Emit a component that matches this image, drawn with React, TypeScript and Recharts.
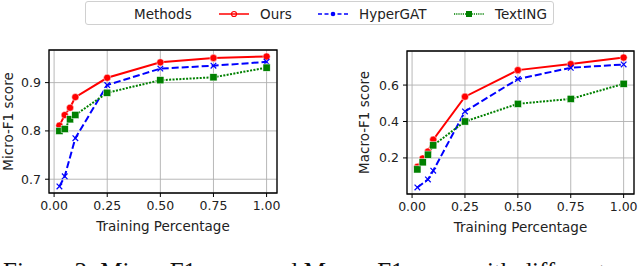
import { LineChart, Line, XAxis, YAxis, CartesianGrid, ReferenceArea } from 'recharts';

const trainPct = [0.025, 0.05, 0.075, 0.1, 0.25, 0.5, 0.75, 1.0];

const microOurs = [0.811, 0.833, 0.848, 0.87, 0.91, 0.942, 0.951, 0.954];
const microHyper = [0.685, 0.706, null, 0.785, 0.895, 0.929, 0.935, 0.943];
const microText = [0.8, 0.804, 0.824, 0.833, 0.879, 0.905, 0.911, 0.931];

const macroOurs = [0.151, 0.197, 0.235, 0.3, 0.536, 0.682, 0.715, 0.751];
const macroHyper = [0.038, null, 0.082, 0.13, 0.455, 0.633, 0.695, 0.713];
const macroText = [0.137, 0.176, 0.218, 0.269, 0.4, 0.497, 0.524, 0.607];

const xTicks = [0, 0.25, 0.5, 0.75, 1.0];
const microTicks = [0.7, 0.8, 0.9];
const macroTicks = [0.2, 0.4, 0.6];

const FONT = '"DejaVu Sans", sans-serif';
const RED = '#ff0000';
const BLUE = '#0000ff';
const GREEN = '#008000';

function buildRows(ours: (number | null)[], hyper: (number | null)[], text: (number | null)[]) {
  return trainPct.map((x, i) => ({ x, ours: ours[i], hyper: hyper[i], text: text[i] }));
}

function CircleDot(props: any) {
  const { cx, cy, value } = props;
  if (value == null || cx == null || cy == null) return null;
  return <circle cx={cx} cy={cy} r={3.6} fill={RED} stroke="#fff" strokeWidth={0.5} />;
}

function CrossDot(props: any) {
  const { cx, cy, value } = props;
  if (value == null || cx == null || cy == null) return null;
  const s = 2.8;
  return (
    <g stroke={BLUE} strokeWidth={1.2}>
      <line x1={cx - s} y1={cy - s} x2={cx + s} y2={cy + s} />
      <line x1={cx - s} y1={cy + s} x2={cx + s} y2={cy - s} />
    </g>
  );
}

function SquareDot(props: any) {
  const { cx, cy, value } = props;
  if (value == null || cx == null || cy == null) return null;
  return <rect x={cx - 3.6} y={cy - 3.6} width={7.2} height={7.2} fill={GREEN} stroke="#fff" strokeWidth={0.5} />;
}

interface PanelProps {
  data: ReturnType<typeof buildRows>;
  yDomain: [number, number];
  yTicks: number[];
  yLabel: string;
  margin: { top: number; right: number; left: number; bottom: number };
  labelOffset: number;
}

const xDomain: [number, number] = [-0.024, 1.049];

function Panel({ data, yDomain, yTicks, yLabel, margin, labelOffset }: PanelProps) {
  return (
    <LineChart width={320} height={266} data={data} margin={margin}>
      <CartesianGrid stroke="#b0b0b0" strokeWidth={0.9} />
      <XAxis
        dataKey="x"
        type="number"
        domain={xDomain}
        ticks={xTicks}
        allowDataOverflow
        height={40}
        tickSize={4}
        tickMargin={4}
        tickLine={{ stroke: '#000' }}
        axisLine={false}
        tickFormatter={(v: number) => v.toFixed(2)}
        tick={{ fill: '#222', fontSize: 12.5, fontFamily: FONT }}
        label={{ value: 'Training Percentage', position: 'insideBottom', offset: 2, fill: '#222', fontSize: 13.5, fontFamily: FONT }}
      />
      <YAxis
        type="number"
        domain={yDomain}
        ticks={yTicks}
        allowDataOverflow
        width={40}
        tickSize={4}
        tickMargin={4}
        tickLine={{ stroke: '#000' }}
        axisLine={false}
        tickFormatter={(v: number) => v.toFixed(1)}
        tick={{ fill: '#222', fontSize: 12.5, fontFamily: FONT }}
        label={{
          content: (p: any) => {
            const vb = p.viewBox;
            const cx = vb.x + vb.width - labelOffset;
            const cy = vb.y + vb.height / 2;
            return (
              <text
                x={cx}
                y={cy}
                transform={`rotate(-90 ${cx} ${cy})`}
                textAnchor="middle"
                dominantBaseline="central"
                fill="#222"
                fontSize={13.5}
                fontFamily={FONT}
              >
                {yLabel}
              </text>
            );
          },
        }}
      />
      <Line
        dataKey="ours"
        stroke={RED}
        strokeWidth={2}
        dot={<CircleDot />}
        activeDot={false}
        isAnimationActive={false}
      />
      <Line
        dataKey="hyper"
        stroke={BLUE}
        strokeWidth={2}
        strokeDasharray="7 3"
        connectNulls
        dot={<CrossDot />}
        activeDot={false}
        isAnimationActive={false}
      />
      <Line
        dataKey="text"
        stroke={GREEN}
        strokeWidth={2}
        strokeDasharray="2 1.4"
        dot={<SquareDot />}
        activeDot={false}
        isAnimationActive={false}
      />
      <ReferenceArea
        x1={xDomain[0]}
        x2={xDomain[1]}
        y1={yDomain[0]}
        y2={yDomain[1]}
        fill="none"
        stroke="#000"
        strokeWidth={1.3}
        ifOverflow="visible"
      />
    </LineChart>
  );
}

function LegendBox() {
  const item = (color: string, dash: string | undefined, marker: React.ReactNode, label: string, left: number) => (
    <div style={{ position: 'absolute', left, top: 0, height: 23, display: 'flex', alignItems: 'center' }}>
      <svg width={32} height={12} style={{ marginRight: 10 }}>
        <line x1={1} y1={6} x2={31} y2={6} stroke={color} strokeWidth={1.5} strokeDasharray={dash} />
        {marker}
      </svg>
      <span>{label}</span>
    </div>
  );
  return (
    <div
      style={{
        position: 'absolute',
        left: 85,
        top: 1,
        width: 467,
        height: 22,
        border: '1px solid #d0d0d0',
        borderRadius: 3,
        fontFamily: FONT,
        fontSize: 13.5,
        color: '#222',
      }}
    >
      <div style={{ position: 'absolute', left: 48, top: 0, height: 23, display: 'flex', alignItems: 'center' }}>Methods</div>
      {item(RED, undefined, <circle cx={16} cy={6} r={2.5} fill="none" stroke={RED} strokeWidth={1.2} />, 'Ours', 132)}
      {item(BLUE, '4 2.5', <circle cx={16} cy={6} r={2.3} fill={BLUE} />, 'HyperGAT', 231)}
      {item(GREEN, '1.2 1', <rect x={13} y={3} width={6} height={6} fill={GREEN} />, 'TextING', 367)}
    </div>
  );
}

export default function App() {
  const microData = buildRows(microOurs, microHyper, microText);
  const macroData = buildRows(macroOurs, macroHyper, macroText);
  return (
    <div style={{ position: 'absolute', left: 0, top: 0, width: 640, height: 266, overflow: 'hidden', background: '#fff' }}>
      <div style={{ position: 'absolute', left: 0, top: 0 }}>
        <Panel
          data={microData}
          yDomain={[0.6715, 0.9675]}
          yTicks={microTicks}
          yLabel="Micro-F1 score"
          margin={{ top: 50, right: 43, left: 9, bottom: 33 }}
          labelOffset={41}
        />
      </div>
      <div style={{ position: 'absolute', left: 320, top: 0 }}>
        <Panel
          data={macroData}
          yDomain={[0.002, 0.787]}
          yTicks={macroTicks}
          yLabel="Macro-F1 score"
          margin={{ top: 51, right: 6, left: 47, bottom: 32 }}
          labelOffset={43}
        />
      </div>
      <LegendBox />
      <div
        style={{
          position: 'absolute',
          left: 3,
          top: 258.5,
          whiteSpace: 'nowrap',
          fontFamily: '"Liberation Serif", serif',
          fontSize: 25,
          lineHeight: '25px',
          color: '#111',
        }}
      >
        Figure 3: Micro-F1 score and Macro-F1 score with different
      </div>
    </div>
  );
}
